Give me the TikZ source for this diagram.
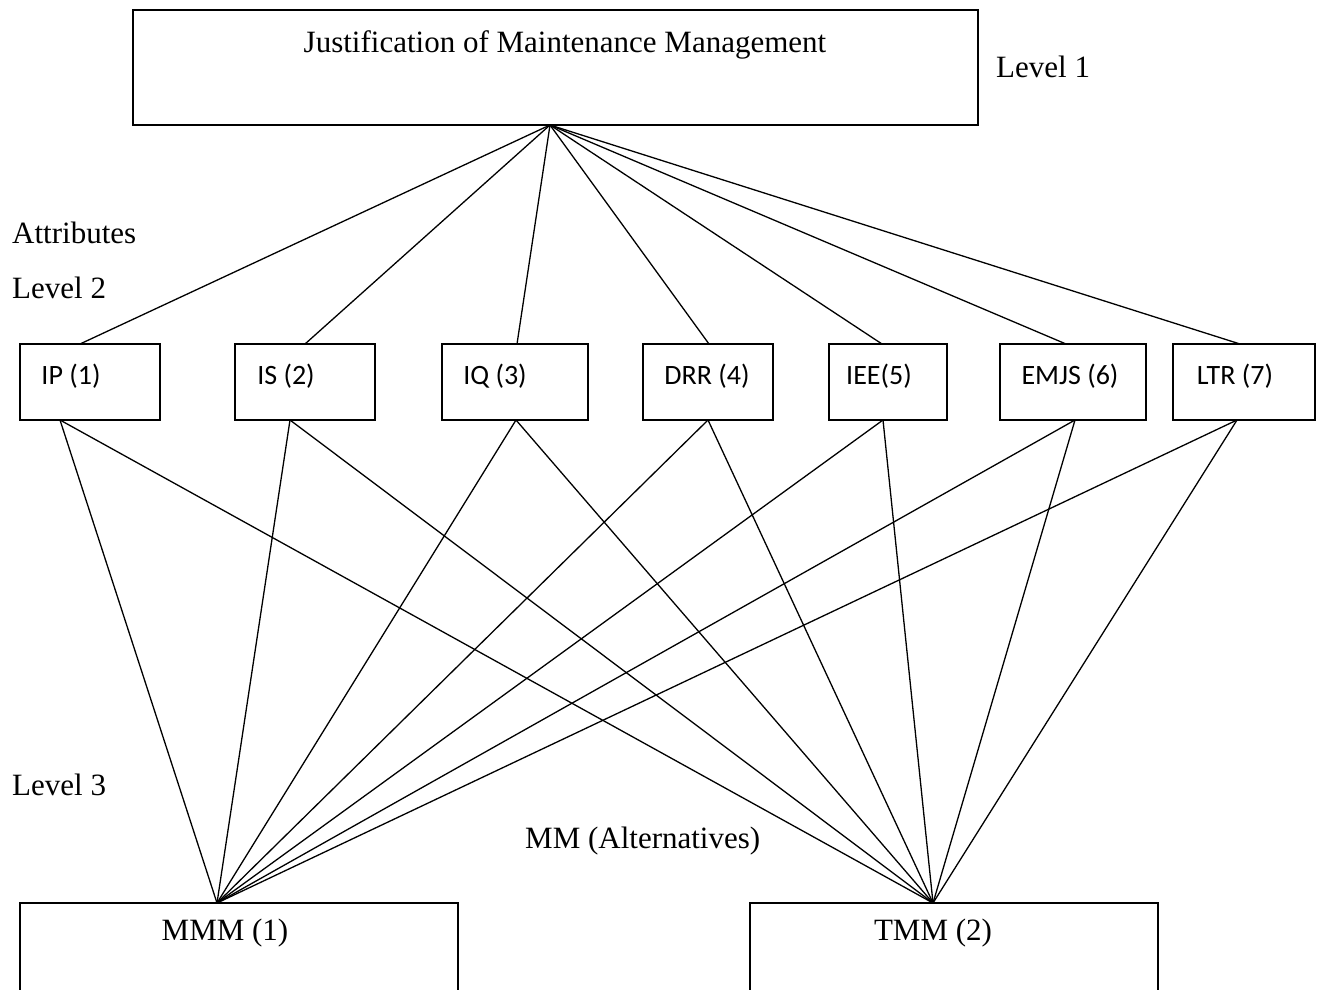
\documentclass[tikz,border=0pt]{standalone}
\usepackage{fontspec}
\setmainfont{Liberation Serif}
\newfontfamily\calib{Carlito}
\begin{document}
\begin{tikzpicture}[x=1pt,y=-1pt,
  box/.style={draw,line width=1.8pt,inner sep=0pt},
  serif/.style={inner sep=0pt,font=\fontsize{31}{36}\selectfont},
  sans/.style={inner sep=0pt,anchor=base,font=\calib\fontsize{28}{33}\selectfont},
  link/.style={line width=1.3pt}]
\clip (0,0) rectangle (1319,989);
\useasboundingbox (0,0) rectangle (1319,989);
% boxes
\node[box,minimum width=845pt,minimum height=115pt] (j) at (555.5,67.5) {};
\node[box,minimum width=140pt,minimum height=76pt] (ip) at (90,382) {};
\node[box,minimum width=140pt,minimum height=76pt] (is) at (305,382) {};
\node[box,minimum width=146pt,minimum height=76pt] (iq) at (515,382) {};
\node[box,minimum width=130pt,minimum height=76pt] (drr) at (708,382) {};
\node[box,minimum width=118pt,minimum height=76pt] (iee) at (888,382) {};
\node[box,minimum width=146pt,minimum height=76pt] (emjs) at (1073,382) {};
\node[box,minimum width=142pt,minimum height=76pt] (ltr) at (1244,382) {};
\node[box,minimum width=438pt,minimum height=180pt] (mmm) at (239,993) {};
\node[box,minimum width=408pt,minimum height=180pt] (tmm) at (954,993) {};
% texts
\node[serif,anchor=base] (tj) at (565,52) {Justification of Maintenance Management};
\node[serif,anchor=base west] (l1) at (996,77) {Level 1};
\node[serif,anchor=base west] (attr) at (12,243) {Attributes};
\node[serif,anchor=base west] (l2) at (12,298) {Level 2};
\node[serif,anchor=base west] (l3) at (12,795) {Level 3};
\node[serif,anchor=base west] (alt) at (525,848) {MM (Alternatives)};
\node[serif,anchor=base] (tmmm) at (225,940) {MMM (1)};
\node[serif,anchor=base] (ttmm) at (933,940) {TMM (2)};
\node[sans] (tip) at (71,384) {IP (1)};
\node[sans] (tis) at (286,384) {IS (2)};
\node[sans] (tiq) at (495,384) {IQ (3)};
\node[sans] (tdrr) at (707,384) {DRR (4)};
\node[sans] (tiee) at (879,384) {IEE(5)};
\node[sans] (temjs) at (1070,384) {EMJS (6)};
\node[sans] (tltr) at (1235,384) {LTR (7)};
% connection points
\coordinate (apex) at (550,125);
\coordinate (a1) at (217,903);
\coordinate (a2) at (933,903);
\coordinate (ipT) at (80,344);   \coordinate (ipB) at (60,420);
\coordinate (isT) at (305,344);  \coordinate (isB) at (290,420);
\coordinate (iqT) at (517,344);  \coordinate (iqB) at (516,420);
\coordinate (drrT) at (709,344); \coordinate (drrB) at (708,420);
\coordinate (ieeT) at (882,344); \coordinate (ieeB) at (883,420);
\coordinate (emjsT) at (1066,344); \coordinate (emjsB) at (1075,420);
\coordinate (ltrT) at (1240,344); \coordinate (ltrB) at (1237,420);
\foreach \n in {ip,is,iq,drr,iee,emjs,ltr}{
  \draw[link] (apex) -- (\n T);
  \draw[link] (\n B) -- (a1);
  \draw[link] (\n B) -- (a2);
}
\end{tikzpicture}
\end{document}
